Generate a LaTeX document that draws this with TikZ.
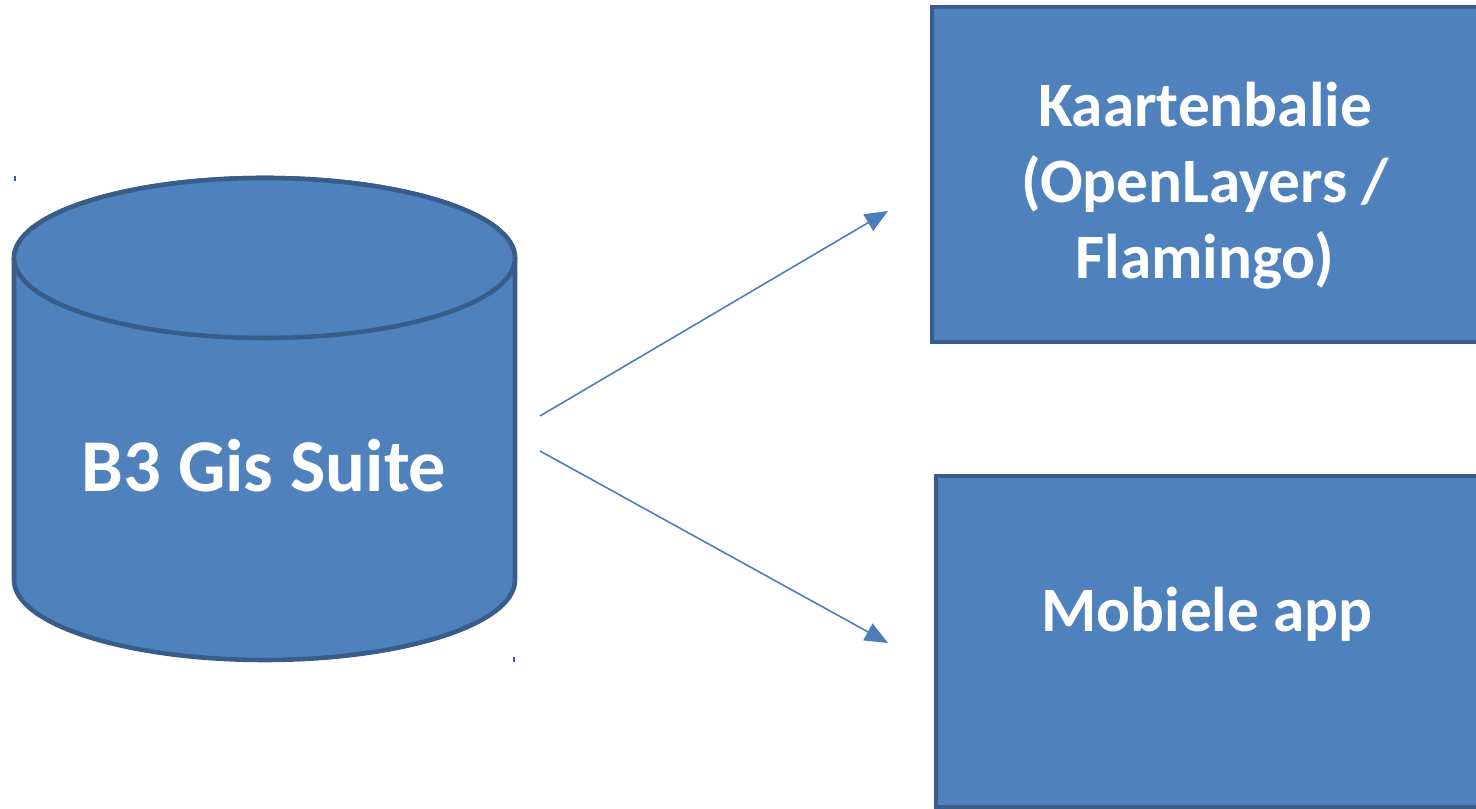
\documentclass[tikz,border=0pt]{standalone}
\usepackage{fontspec}
\setmainfont{Carlito}
\usetikzlibrary{arrows.meta,positioning}
\definecolor{vulblauw}{HTML}{4F81BD}
\definecolor{randblauw}{HTML}{385D8A}
\definecolor{pijlblauw}{HTML}{4A7EBB}
\tikzset{>={Triangle[length=2.3mm,width=1.9mm]}}
\tikzset{vlak/.style={fill=vulblauw,draw=randblauw,line width=1.3pt}}
\tikzset{blok/.style={vlak,rectangle,inner sep=0pt}}
\tikzset{tekst/.style={text=white,font=\fontsize{18}{21.6}\selectfont\bfseries,align=center}}
\tikzset{groot/.style={tekst,font=\fontsize{21.2}{25}\selectfont\bfseries}}
\tikzset{pijl/.style={->,draw=pijlblauw,line width=0.45pt}}

\begin{document}
\begin{tikzpicture}
        \useasboundingbox (0,0) rectangle (14.76,8.09);
        % database
        \coordinate (T) at (2.645,5.51);
        \coordinate (O) at (2.645,2.29);
        \draw[vlak] (0.14,5.51) -- (0.14,2.29)
          arc[start angle=180,end angle=360,x radius=2.505,y radius=0.8]
          -- (5.15,5.51)
          arc[start angle=0,end angle=180,x radius=2.505,y radius=0.8] -- cycle;
        \draw[vlak] (T) ellipse [x radius=2.505,y radius=0.8];
        \node[groot] (gis) at (2.64,3.43) {B3 Gis Suite};
        % handles
        \draw[randblauw,line width=0.4pt] (0.15,6.28) -- (0.15,6.33);
        \draw[randblauw,line width=0.4pt] (5.14,1.47) -- (5.14,1.52);
        % blokken
        \node[blok,minimum width=5.46cm,minimum height=3.35cm,
          label={[tekst,yshift=-0.11cm]center:Kaartenbalie\\(OpenLayers /\\Flamingo)}]
          (kaart) at (12.05,6.345) {};
        \node[blok,minimum width=5.42cm,minimum height=3.31cm,
          label={[tekst,yshift=0.27cm]center:Mobiele app}]
          (mobiel) at (12.07,1.675) {};
        % pijlen
        \coordinate (a1) at (5.40,3.93);
        \coordinate (a2) at (5.40,3.58);
        \coordinate (e1) at (8.88,5.98);
        \coordinate (e2) at (8.88,1.66);
        \draw[pijl] (a1) -- (e1);
        \draw[pijl] (a2) -- (e2);
      \end{tikzpicture}
\end{document}
